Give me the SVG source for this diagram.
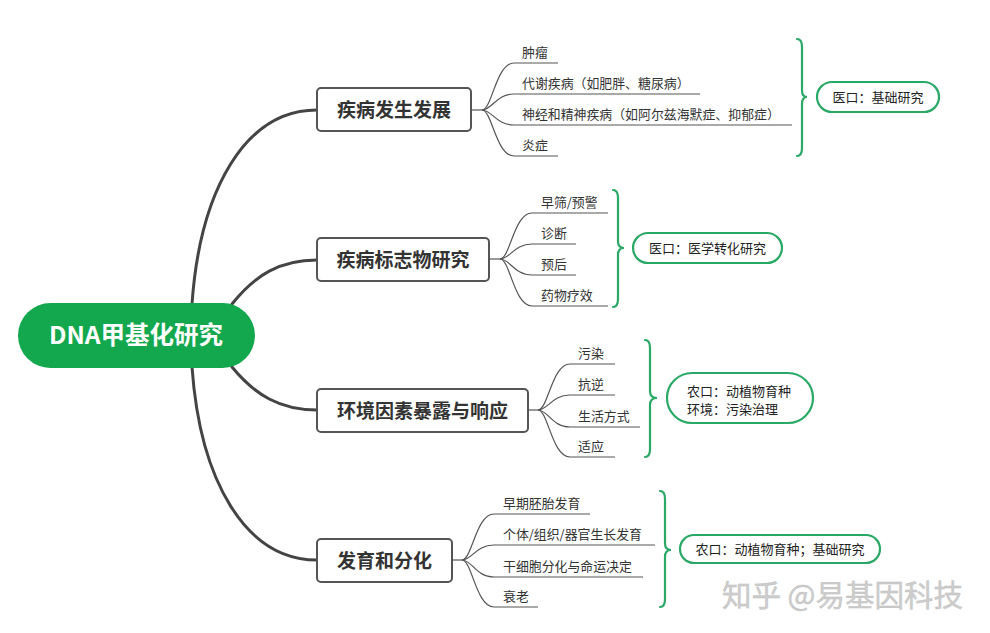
<svg xmlns="http://www.w3.org/2000/svg" width="990" height="633" viewBox="0 0 990 633">
<style>
  .main { fill: none; stroke: #444; stroke-width: 3; stroke-linecap: round; }
  .sub { fill: none; stroke: #555; stroke-width: 1.2; }
  .box { fill: #fff; stroke: #555; stroke-width: 2; }
  .pill { fill: #fff; stroke: #2aa866; stroke-width: 2.2; }
  .brace { fill: none; stroke: #2aa866; stroke-width: 2.2; stroke-linecap: round; }
  .t-root { font-family: "Noto Sans CJK SC", "Noto Sans", sans-serif; font-size: 24.5px; font-weight: bold; fill: #fff; }
  .t-node { font-family: "Noto Sans CJK SC", sans-serif; font-size: 19px; font-weight: bold; fill: #333; }
  .t-sub { font-family: "Noto Sans CJK SC", sans-serif; font-size: 12.9px; fill: #333; }
  .t-pill { font-family: "Noto Sans CJK SC", sans-serif; font-size: 13px; fill: #222; }
  .t-wm { font-family: "Noto Sans CJK SC", sans-serif; font-size: 29.5px; fill: #cdcdcd; stroke: #bdbdbd; stroke-width: 0.4; }
</style>
<rect width="990" height="633" fill="#fff"/>

<g id="connectors">
  <path class="main" d="M192,304 C200,190 245,110 317,110"/>
  <path class="main" d="M232,304 C255,275 280,260 317,260"/>
  <path class="main" d="M232,367 C255,395 280,410 317,410"/>
  <path class="main" d="M192,367 C200,480 245,560 317,560"/>

  <!-- node1 subs -->
  <path class="sub" d="M471,110 H482"/>
  <path class="sub" d="M482,110 C492,110 496,63 514,63 H558"/>
  <path class="sub" d="M482,110 C492,110 496,94 514,94 H700"/>
  <path class="sub" d="M482,110 C492,110 496,125 514,125 H792"/>
  <path class="sub" d="M482,110 C492,110 496,156 514,156 H558"/>

  <!-- node2 subs -->
  <path class="sub" d="M489,259 H500"/>
  <path class="sub" d="M500,259 C510,259 514,213 532,213 H608"/>
  <path class="sub" d="M500,259 C510,259 514,244 532,244 H576"/>
  <path class="sub" d="M500,259 C510,259 514,275 532,275 H576"/>
  <path class="sub" d="M500,259 C510,259 514,306 532,306 H608"/>

  <!-- node3 subs -->
  <path class="sub" d="M528,410 H538"/>
  <path class="sub" d="M538,410 C548,410 552,364 570,364 H615"/>
  <path class="sub" d="M538,410 C548,410 552,395 570,395 H615"/>
  <path class="sub" d="M538,410 C548,410 552,427 570,427 H640"/>
  <path class="sub" d="M538,410 C548,410 552,457 570,457 H615"/>

  <!-- node4 subs -->
  <path class="sub" d="M452,560 H462"/>
  <path class="sub" d="M462,560 C472,560 476,514 494,514 H590"/>
  <path class="sub" d="M462,560 C472,560 476,545 494,545 H655"/>
  <path class="sub" d="M462,560 C472,560 476,577 494,577 H643"/>
  <path class="sub" d="M462,560 C472,560 476,607 494,607 H538"/>

  <!-- braces -->
  <path class="brace" d="M797,39 Q802,39 802,47 V90 Q802,97 807,97 Q802,97 802,104 V148 Q802,156 797,156"/>
  <path class="brace" d="M613,190 Q618,190 618,198 V241 Q618,248 624,248 Q618,248 618,255 V299 Q618,307 613,307"/>
  <path class="brace" d="M645,340 Q650,340 650,348 V391 Q650,398 657,398 Q650,398 650,405 V449 Q650,457 645,457"/>
  <path class="brace" d="M660,491 Q665,491 665,499 V543 Q665,550 671,550 Q665,550 665,557 V599 Q665,607 660,607"/>
</g>

<g id="root">
  <rect x="18" y="303" width="237" height="65" rx="32.5" fill="#13a74e"/>
  <text class="t-root" x="136" y="344" text-anchor="middle">DNA甲基化研究</text>
</g>

<g id="node1">
  <rect class="box" x="317" y="88" width="154" height="43" rx="4"/>
  <text class="t-node" x="394" y="117" text-anchor="middle">疾病发生发展</text>
</g>
<g id="node1-subs">
  <text class="t-sub" x="522" y="57">肿瘤</text>
  <text class="t-sub" x="522" y="88">代谢疾病（如肥胖、糖尿病）</text>
  <text class="t-sub" x="522" y="119">神经和精神疾病（如阿尔兹海默症、抑郁症）</text>
  <text class="t-sub" x="522" y="150">炎症</text>
</g>
<g id="label1">
  <rect class="pill" x="817" y="82" width="122" height="30" rx="15"/>
  <text class="t-pill" x="878" y="102" text-anchor="middle">医口：基础研究</text>
</g>

<g id="node2">
  <rect class="box" x="317" y="238" width="172" height="43" rx="4"/>
  <text class="t-node" x="403" y="267" text-anchor="middle">疾病标志物研究</text>
</g>
<g id="node2-subs">
  <text class="t-sub" x="541" y="207">早筛/预警</text>
  <text class="t-sub" x="541" y="238">诊断</text>
  <text class="t-sub" x="541" y="269">预后</text>
  <text class="t-sub" x="541" y="300">药物疗效</text>
</g>
<g id="label2">
  <rect class="pill" x="633" y="233" width="149" height="30" rx="15"/>
  <text class="t-pill" x="707.5" y="253" text-anchor="middle">医口：医学转化研究</text>
</g>

<g id="node3">
  <rect class="box" x="317" y="389" width="211" height="43" rx="4"/>
  <text class="t-node" x="422.5" y="418" text-anchor="middle">环境因素暴露与响应</text>
</g>
<g id="node3-subs">
  <text class="t-sub" x="578" y="358">污染</text>
  <text class="t-sub" x="578" y="389">抗逆</text>
  <text class="t-sub" x="578" y="421">生活方式</text>
  <text class="t-sub" x="578" y="451">适应</text>
</g>
<g id="label3">
  <rect class="pill" x="667" y="373" width="146" height="50" rx="25"/>
  <text class="t-pill" x="687" y="396">农口：动植物育种</text>
  <text class="t-pill" x="687" y="414">环境：污染治理</text>
</g>

<g id="node4">
  <rect class="box" x="317" y="539" width="135" height="43" rx="4"/>
  <text class="t-node" x="384.5" y="568" text-anchor="middle">发育和分化</text>
</g>
<g id="node4-subs">
  <text class="t-sub" x="503" y="508">早期胚胎发育</text>
  <text class="t-sub" x="503" y="539">个体/组织/器官生长发育</text>
  <text class="t-sub" x="503" y="571">干细胞分化与命运决定</text>
  <text class="t-sub" x="503" y="601">衰老</text>
</g>
<g id="label4">
  <rect class="pill" x="680" y="535" width="200" height="28" rx="14"/>
  <text class="t-pill" x="780" y="554" text-anchor="middle">农口：动植物育种；基础研究</text>
</g>

<g id="watermark">
  <text class="t-wm" x="722" y="606">知乎 @易基因科技</text>
</g>
</svg>
